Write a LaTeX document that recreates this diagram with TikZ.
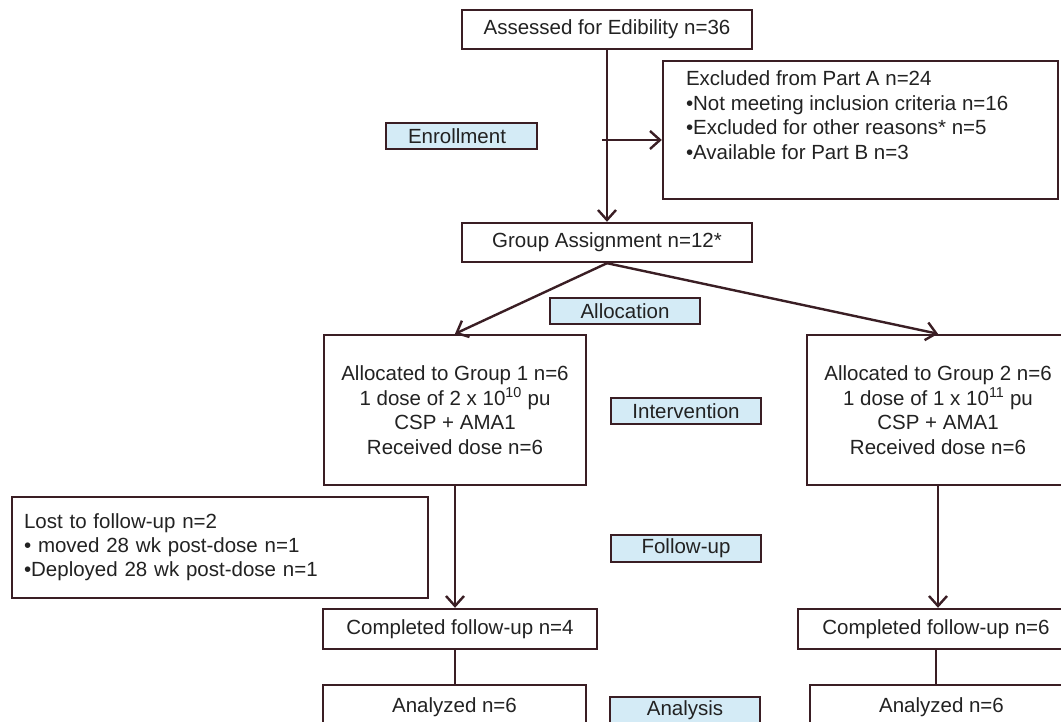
\documentclass[tikz,border=0pt]{standalone}
\usepackage{fontspec}
\setmainfont{Liberation Sans}
\usepackage{xcolor}
\usetikzlibrary{arrows.meta}
\definecolor{edgebrown}{HTML}{3A1E24}
\definecolor{stageblue}{HTML}{D4EBF6}
\definecolor{inkgray}{HTML}{222222}

\begin{document}
\begin{tikzpicture}[
    x=1pt, y=-1pt,
    font=\fontsize{20.5}{24.5}\selectfont,
    box/.style={draw=edgebrown, line width=2.4pt, fill=white, align=center, inner sep=0pt, text=inkgray},
    stage/.style={draw=edgebrown, line width=2.6pt, fill=stageblue, minimum width=150, minimum height=26, inner sep=0pt, text=inkgray},
    arrow/.style={draw=edgebrown, line width=2.4pt, -{Straight Barb[length=10pt, width=18pt]}},
    link/.style={draw=edgebrown, line width=2.4pt}
]
\useasboundingbox (0,0) rectangle (1061,722);
\clip (0,0) rectangle (1061,722);

% enrollment
\node[box, minimum width=290, minimum height=39] (assess) at (607,29.5) {Assessed for Edibility n=36};
\node[box, minimum width=395, minimum height=138, label={[anchor=north west, align=left, inner sep=0pt, text=inkgray, font=\fontsize{20.5}{24.5}\selectfont, xshift=24pt, yshift=-11pt]north west:Excluded from Part A n=24\\•Not meeting inclusion criteria n=16\\•Excluded for other reasons* n=5\\•Available for Part B n=3}] (excl) at (860.5,130) {};
\node[stage, minimum width=151, text width=107, inner xsep=22pt, align=left] (enroll) at (461.5,136) {Enrollment};
\node[box, minimum width=290, minimum height=39] (grp) at (607,242.5) {Group Assignment n=12*};
\coordinate (trunk) at (607,140);

% allocation
\node[stage] (alloc) at (625,311) {Allocation};
\node[box, minimum width=262, minimum height=150] (g1) at (455,410) {Allocated to Group 1 n=6\\1 dose of 2 x 10\textsuperscript{10} pu\\CSP + AMA1\\Received dose n=6};
\node[box, minimum width=262, minimum height=150] (g2) at (938,410) {Allocated to Group 2 n=6\\1 dose of 1 x 10\textsuperscript{11} pu\\CSP + AMA1\\Received dose n=6};
\node[stage] (interv) at (686,411) {Intervention};

% follow-up
\node[box, minimum width=416, minimum height=101, text width=392, align=left, font=\fontsize{20.5}{24}\selectfont] (lost) at (220,547.5) {Lost to follow-up n=2\\• moved 28 wk post-dose n=1\\•Deployed 28 wk post-dose n=1};
\node[stage, minimum height=27] (follow) at (686,548.5) {Follow-up};
\node[box, minimum width=274, minimum height=40] (comp1) at (460,629) {Completed follow-up n=4};
\node[box, minimum width=276, minimum height=40] (comp2) at (936,629) {Completed follow-up n=6};

% analysis
\node[box, minimum width=263, minimum height=44] (ana1) at (454.5,707) {Analyzed n=6};
\node[box, minimum width=263, minimum height=44] (ana2) at (941.5,707) {Analyzed n=6};
\node[stage] (analysis) at (685,710) {Analysis};

\draw[arrow] (assess.south) -- (grp.north);
\draw[arrow] ([xshift=-5pt]trunk) -- (trunk -| excl.west);
\draw[arrow] (grp.south) -- (g1.north);
\draw[arrow] (grp.south) -- (g2.north);
\draw[arrow] (g1.south) -- (g1.south |- comp1.north);
\draw[arrow] (g2.south) -- (g2.south |- comp2.north);
\draw[link] ([xshift=-5pt]comp1.south) -- ([xshift=-5pt]comp1.south |- ana1.north);
\draw[link] (comp2.south) -- (comp2.south |- ana2.north);
\end{tikzpicture}
\end{document}
